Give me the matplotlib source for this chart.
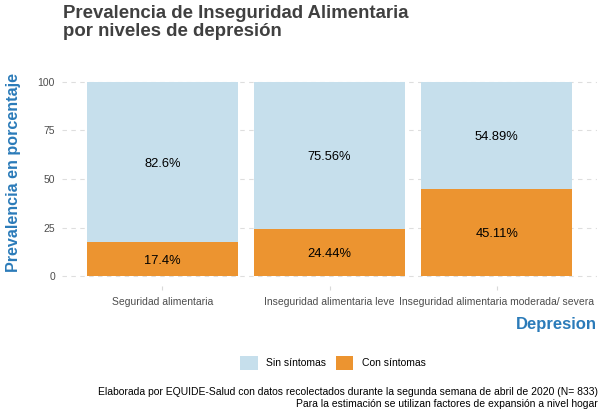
import numpy as np
import matplotlib.pyplot as plt
from matplotlib.patches import Patch

plt.rcParams['font.family'] = ['Liberation Sans', 'DejaVu Sans']

categorias = ["Seguridad alimentaria", "Inseguridad alimentaria leve",
              "Inseguridad alimentaria moderada/ severa"]
con_sintomas = [17.4, 24.44, 45.11]
sin_sintomas = [82.6, 75.56, 54.89]
yticks = [0, 25, 50, 75, 100]

azul = "#c6dfec"
naranja = "#ec9430"
titulo_azul = "#2b7bb9"

fig = plt.figure(figsize=(6.02, 4.12), dpi=100)
ax = fig.add_axes([62 / 602, 1 - 286 / 412, (597 - 62) / 602, (286 - 72) / 412])

x = np.arange(1, len(categorias) + 1)
ax.bar(x, con_sintomas, width=0.9, color=naranja, zorder=2)
ax.bar(x, sin_sintomas, width=0.9, bottom=con_sintomas, color=azul, zorder=2)

for xi, c, s in zip(x, con_sintomas, sin_sintomas):
    ax.text(xi, c / 2, f"{c:g}%", ha="center", va="center_baseline", fontsize=9.3, color="black")
    ax.text(xi, c + s / 2, f"{s:g}%", ha="center", va="center_baseline", fontsize=9.3, color="black")

ax.set_xlim(0.4, 3.6)
ax.set_ylim(-5, 105)
ax.set_yticks(yticks)
ax.set_xticks(x)
ax.set_xticklabels(categorias, fontsize=7.5, color="#4d4d4d")
ax.tick_params(axis="y", labelsize=7.5, labelcolor="#4d4d4d", length=0, pad=5)
ax.tick_params(axis="x", length=3, color="#d9d9d9", pad=5)
ax.grid(axis="y", color="#dedede", linestyle=(0, (4, 4)), linewidth=0.8, zorder=0)
for s in ax.spines.values():
    s.set_visible(False)

fig.text(14 / 602, 1 - 173 / 412, "Prevalencia en porcentaje", rotation=90,
         ha="center", va="center", fontsize=11.6, fontweight="bold", color=titulo_azul)
fig.text(597 / 602, 1 - 325 / 412, "Depresion", ha="right", va="center",
         fontsize=12, fontweight="bold", color=titulo_azul)
fig.text(63 / 602, 1 - 5 / 412, "Prevalencia de Inseguridad Alimentaria\npor niveles de depresión",
         ha="left", va="top", fontsize=13.4, fontweight="bold", color="#404040", linespacing=1.05)

handles = [Patch(facecolor=azul, label="Sin síntomas"), Patch(facecolor=naranja, label="Con síntomas")]
fig.legend(handles=handles, loc="center", bbox_to_anchor=(333 / 602, 1 - 363 / 412), ncol=2,
           frameon=False, fontsize=7.5, handlelength=1.7, handleheight=1.8, handletextpad=0.8,
           columnspacing=0.9)

fig.text(598 / 602, 1 - 392 / 412,
         "Elaborada por EQUIDE-Salud con datos recolectados durante la segunda semana de abril de 2020 (N= 833)",
         ha="right", va="center", fontsize=7.45, color="black")
fig.text(598 / 602, 1 - 404 / 412,
         "Para la estimación se utilizan factores de expansión a nivel hogar",
         ha="right", va="center", fontsize=7.45, color="black")

fig.savefig("out.png", dpi=100)
